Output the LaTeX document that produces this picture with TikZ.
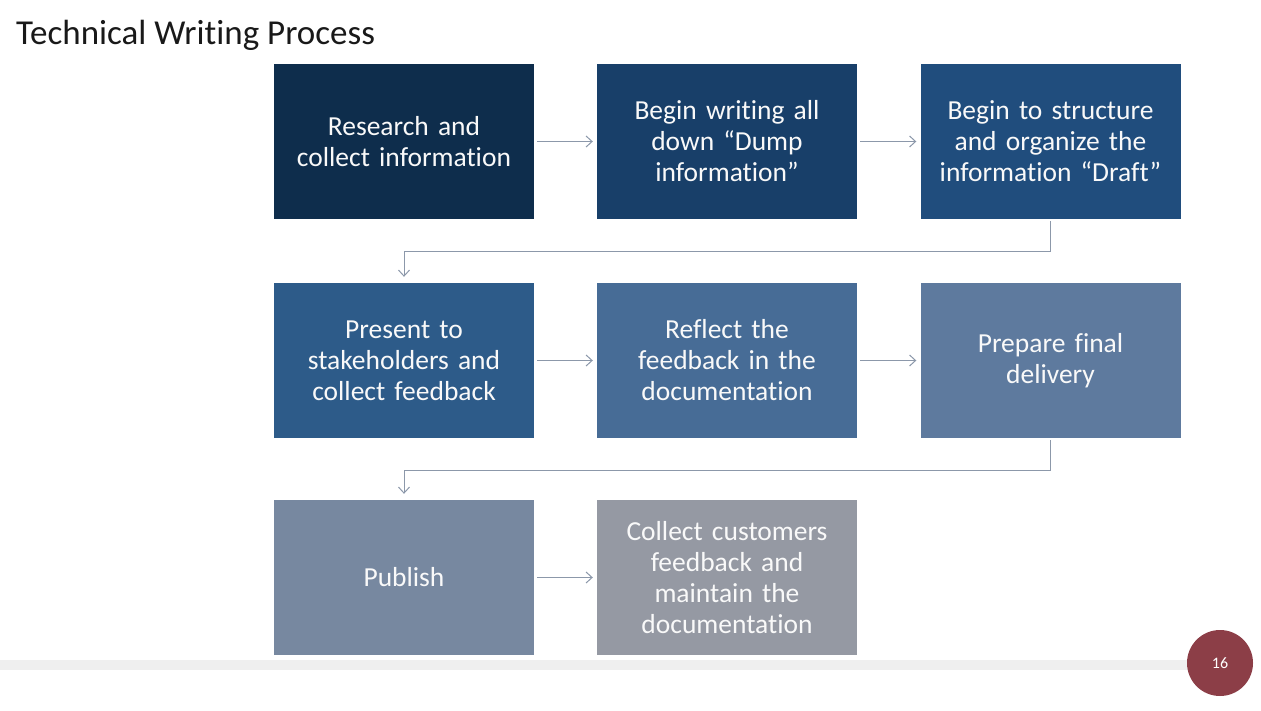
\documentclass[tikz,border=0pt]{standalone}
\usepackage{fontspec}
\setmainfont{Carlito}[Ligatures=NoCommon]
\usetikzlibrary{arrows.meta}
\definecolor{cA}{HTML}{0E2D4C}
\definecolor{cB}{HTML}{183F69}
\definecolor{cC}{HTML}{204D7D}
\definecolor{cD}{HTML}{2D5B89}
\definecolor{cE}{HTML}{476C96}
\definecolor{cF}{HTML}{5E7A9E}
\definecolor{cG}{HTML}{7788A0}
\definecolor{cH}{HTML}{9599A3}
\definecolor{conn}{HTML}{8C98AA}
\definecolor{badge}{HTML}{8C3E47}
\definecolor{strip}{HTML}{EFEFEF}
\begin{document}
\begin{tikzpicture}[x=1pt,y=-1pt,
  stepbox/.style={rectangle, inner sep=0pt, minimum width=260pt, minimum height=155pt,
    text width=252pt, align=center, text=white!95!gray, font=\fontsize{27.5}{31}\selectfont},
  link/.style={draw=conn, line width=1pt, -{Straight Barb[length=6pt,width=11pt,line width=1pt]}}]
\useasboundingbox (0,0) rectangle (1261,710);
\fill[white] (0,0) rectangle (1261,710);
\fill[strip] (0,660) rectangle (1200,670);
\node[anchor=base west, inner sep=0pt, font=\fontsize{35}{40}\selectfont, text=black!90] (title) at (16,44) {Technical Writing Process};
\node[stepbox, fill=cA] (b1) at (404,141.5) {Research and\\collect information};
\node[stepbox, fill=cB] (b2) at (727,141.5) {Begin writing all\\down “Dump\\information”};
\node[stepbox, fill=cC] (b3) at (1050.5,141.5) {Begin to structure\\and organize the\\information “Draft”};
\node[stepbox, fill=cD] (b4) at (404,360.5) {Present to\\stakeholders and\\collect feedback};
\node[stepbox, fill=cE] (b5) at (727,360.5) {Reflect the\\feedback in the\\documentation};
\node[stepbox, fill=cF] (b6) at (1050.5,360.5) {Prepare final\\delivery};
\node[stepbox, fill=cG] (b7) at (404,577.5) {Publish};
\node[stepbox, fill=cH] (b8) at (727,577.5) {Collect customers\\feedback and\\maintain the\\documentation};
\draw[link] ([xshift=3pt]b1.east) -- ([xshift=-4pt]b2.west);
\draw[link] ([xshift=3pt]b2.east) -- ([xshift=-4pt]b3.west);
\draw[link] ([xshift=3pt]b4.east) -- ([xshift=-4pt]b5.west);
\draw[link] ([xshift=3pt]b5.east) -- ([xshift=-4pt]b6.west);
\draw[link] ([xshift=3pt]b7.east) -- ([xshift=-4pt]b8.west);
\draw[link] ([yshift=-2pt]b3.south) -- ++(0,30) -| ([yshift=6pt]b4.north);
\draw[link] ([yshift=-2pt]b6.south) -- ++(0,30) -| ([yshift=6pt]b7.north);
\node[circle, fill=badge, minimum size=66pt, inner sep=0pt, text=white, font=\fontsize{16}{18}\selectfont] (pg) at (1220,663) {16};
\end{tikzpicture}
\end{document}
